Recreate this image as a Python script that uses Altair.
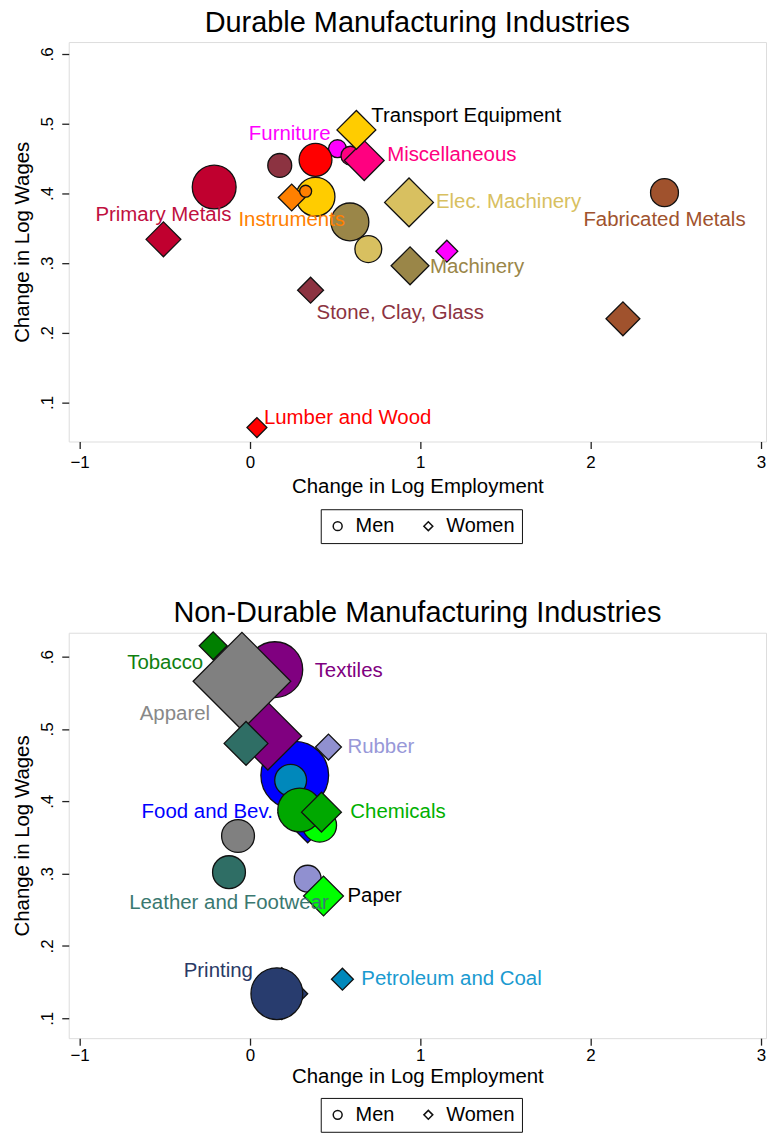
import altair as alt
import pandas as pd

FONT = "Liberation Sans"

# ---------------- Durable manufacturing ----------------
DUR_INDUSTRIES = ["Lumber and Wood", "Furniture", "Stone, Clay, Glass", "Primary Metals",
                  "Fabricated Metals", "Machinery", "Elec. Machinery",
                  "Transport Equipment", "Instruments", "Miscellaneous"]
DUR_COLORS = ["#FF0000", "#FF00FF", "#8C3341", "#C0002F", "#A0522D",
              "#9A8648", "#D8C060", "#FFCC00", "#FF8000", "#FF0080"]
DUR_LABEL_COLORS = ["#FF0000", "#FF00FF", "#8C3341", "#C0103F", "#A0522D",
                    "#9A8648", "#D8C060", "#000000", "#FF8000", "#FF0080"]
DUR_MEN_EMP = [0.385, 0.514, 0.175, -0.210, 2.434, 0.587, 0.695, 0.385, 0.327, 0.590]
DUR_MEN_WAGE = [0.448, 0.464, 0.440, 0.409, 0.401, 0.359, 0.320, 0.395, 0.403, 0.454]
DUR_MEN_SHARE = [2.72, 0.81, 1.44, 4.84, 1.96, 3.61, 1.82, 3.80, 0.36, 0.90]
DUR_WOMEN_EMP = [0.041, 1.156, 0.356, -0.508, 2.190, 0.940, 0.934, 0.625, 0.245, 0.671]
DUR_WOMEN_WAGE = [0.064, 0.317, 0.261, 0.334, 0.220, 0.296, 0.387, 0.491, 0.394, 0.447]
DUR_WOMEN_SHARE = [1.00, 1.21, 1.69, 3.06, 2.89, 3.61, 6.00, 3.80, 1.82, 4.00]
DUR_DRAW_ORDER = [("Furniture", "Men"), ("Lumber and Wood", "Men"), ("Stone, Clay, Glass", "Men"),
                  ("Primary Metals", "Men"), ("Fabricated Metals", "Men"), ("Machinery", "Men"),
                  ("Elec. Machinery", "Men"), ("Transport Equipment", "Men"),
                  ("Lumber and Wood", "Women"), ("Furniture", "Women"), ("Stone, Clay, Glass", "Women"),
                  ("Primary Metals", "Women"), ("Fabricated Metals", "Women"), ("Machinery", "Women"),
                  ("Elec. Machinery", "Women"), ("Instruments", "Women"), ("Instruments", "Men"),
                  ("Miscellaneous", "Men"), ("Miscellaneous", "Women"), ("Transport Equipment", "Women")]
# label: anchor series, align, dx, dy
DUR_LABELS = {
    "Transport Equipment": ("Women", "left", 15, -14),
    "Furniture": ("Men", "right", -7, -15),
    "Miscellaneous": ("Women", "left", 23, -6),
    "Elec. Machinery": ("Women", "left", 27, 0),
    "Machinery": ("Women", "left", 20, 1),
    "Fabricated Metals": ("Men", "center", 0, 28),
    "Stone, Clay, Glass": ("Women", "left", 6, 23),
    "Lumber and Wood": ("Women", "left", 7, -10),
    "Primary Metals": ("Women", "center", 0, -24),
    "Instruments": ("Women", "center", 0, 23),
}

# ---------------- Non-durable manufacturing ----------------
ND_INDUSTRIES = ["Food and Bev.", "Tobacco", "Textiles", "Apparel", "Paper", "Printing",
                 "Chemicals", "Petroleum and Coal", "Rubber", "Leather and Footwear"]
ND_COLORS = ["#0000FF", "#007F00", "#800080", "#808080", "#00FF00", "#283C6E",
             "#00A800", "#0088BB", "#9090D0", "#2F6E65"]
ND_LABEL_COLORS = ["#0000FF", "#108010", "#800080", "#888888", "#000000", "#2A3A66",
                   "#00B000", "#1A9AD0", "#9898D8", "#3A7870"]
ND_MEN_EMP = [0.263, -0.105, 0.146, -0.070, 0.409, 0.158, 0.292, 0.239, 0.339, -0.123]
ND_MEN_WAGE = [0.436, 0.541, 0.582, 0.352, 0.367, 0.134, 0.388, 0.429, 0.293, 0.302]
ND_MEN_SHARE = [11.56, 0.81, 7.84, 2.72, 2.89, 6.76, 4.84, 2.56, 1.82, 2.72]
ND_WOMEN_EMP = [0.339, -0.216, 0.105, -0.047, 0.432, 0.187, 0.420, 0.543, 0.461, -0.023]
ND_WOMEN_WAGE = [0.384, 0.615, 0.490, 0.566, 0.269, 0.134, 0.385, 0.154, 0.475, 0.480]
ND_WOMEN_SHARE = [9.00, 1.96, 11.56, 24.01, 4.00, 6.76, 4.00, 1.21, 1.69, 4.84]
ND_DRAW_ORDER = [("Printing", "Women"), ("Printing", "Men"), ("Food and Bev.", "Women"),
                 ("Food and Bev.", "Men"), ("Rubber", "Men"), ("Paper", "Men"), ("Paper", "Women"),
                 ("Textiles", "Men"), ("Tobacco", "Men"), ("Textiles", "Women"), ("Apparel", "Men"),
                 ("Apparel", "Women"), ("Tobacco", "Women"), ("Leather and Footwear", "Men"),
                 ("Leather and Footwear", "Women"), ("Petroleum and Coal", "Men"),
                 ("Petroleum and Coal", "Women"), ("Chemicals", "Men"), ("Chemicals", "Women"),
                 ("Rubber", "Women")]
ND_LABELS = {
    "Tobacco": ("Women", "right", -10, 17),
    "Textiles": ("Men", "left", 40, 1),
    "Apparel": ("Women", "right", -32, 33),
    "Rubber": ("Women", "left", 19, 0),
    "Food and Bev.": ("Women", "right", -35, -1),
    "Chemicals": ("Women", "left", 29, 0),
    "Leather and Footwear": ("Men", "center", 0, 31),
    "Paper": ("Women", "left", 24, 0),
    "Printing": ("Women", "right", -29, -23),
    "Petroleum and Coal": ("Women", "left", 19, 0),
}

X_TICKS = [-1, 0, 1, 2, 3]
Y_TICKS = [0.1, 0.2, 0.3, 0.4, 0.5, 0.6]
SHARE_MAX = 25.0
SIZE_PER_SHARE = 400.0  # marker area (px^2) per unit share


def build_frame(industries, men_x, men_y, men_s, women_x, women_y, women_s, draw_order):
    rows = []
    for i, ind in enumerate(industries):
        rows.append(dict(industry=ind, sex="Men", emp=men_x[i], wage=men_y[i], share=men_s[i]))
        rows.append(dict(industry=ind, sex="Women", emp=women_x[i], wage=women_y[i], share=women_s[i]))
    df = pd.DataFrame(rows)
    rank = {key: k for k, key in enumerate(draw_order)}
    df["rank"] = [rank.get((r.industry, r.sex), -1) for r in df.itertuples()]
    return df.sort_values("rank").reset_index(drop=True)


def panel(title, df, industries, colors, label_colors, labels, ydomain, height, legend_y,
          title_offset, x_label_pad, x_title_pad):
    x = alt.X("emp:Q", title="Change in Log Employment",
              scale=alt.Scale(domain=[-1.064, 3.03], nice=False, zero=False),
              axis=alt.Axis(values=X_TICKS, format="d", grid=False, domain=False,
                            tickSize=7, tickColor="#222", tickWidth=1.3,
                            labelFontSize=17, labelPadding=x_label_pad, labelColor="#000",
                            titleFontSize=20.5, titlePadding=x_title_pad, titleColor="#000",
                            titleFontWeight="normal"))
    y = alt.Y("wage:Q", title="Change in Log Wages",
              scale=alt.Scale(domain=ydomain, nice=False, zero=False),
              axis=alt.Axis(values=Y_TICKS, grid=False, domain=False,
                            labelExpr="replace(format(datum.value, '.1f'), '0.', '.')",
                            labelAngle=270, labelAlign="center", labelBaseline="bottom",
                            tickSize=7, tickColor="#222", tickWidth=1.3,
                            labelFontSize=17, labelPadding=5, labelColor="#000",
                            titleFontSize=20.5, titlePadding=6, titleColor="#000",
                            titleFontWeight="normal"))

    points = alt.Chart(df).mark_point(filled=True, opacity=1, stroke="#111",
                                      strokeWidth=1.3).encode(
        x=x, y=y,
        color=alt.Color("industry:N", scale=alt.Scale(domain=industries, range=colors),
                        legend=None),
        shape=alt.Shape("sex:N", scale=alt.Scale(domain=["Men", "Women"],
                                                 range=["circle", "diamond"]),
                        legend=alt.Legend(orient="none", legendX=253, legendY=legend_y,
                                          direction="horizontal", title=None,
                                          strokeColor="#111", padding=7,
                                          labelFontSize=20, labelFont=FONT,
                                          labelColor="#000", labelOffset=8,
                                          symbolSize=80, symbolFillColor="white",
                                          symbolStrokeColor="#111",
                                          symbolStrokeWidth=1.5, columnPadding=24)),
        size=alt.Size("share:Q", scale=alt.Scale(domain=[0, SHARE_MAX],
                                                 range=[0, SHARE_MAX * SIZE_PER_SHARE]),
                      legend=None),
        order=alt.Order("rank:Q"),
    )

    layers = [points]
    for i, ind in enumerate(industries):
        anchor, align, dx, dy = labels[ind]
        row = df[(df.industry == ind) & (df.sex == anchor)]
        layers.append(
            alt.Chart(row).mark_text(align=align, baseline="middle", dx=dx, dy=dy,
                                     font=FONT, fontSize=20.5,
                                     color=label_colors[i]).encode(
                x="emp:Q", y="wage:Q", text="industry:N")
        )
    return alt.layer(*layers).properties(
        width=700, height=height,
        title=alt.TitleParams(title, fontSize=29, font=FONT, fontWeight="normal",
                              color="#000", anchor="middle", offset=title_offset),
    )


dur_df = build_frame(DUR_INDUSTRIES, DUR_MEN_EMP, DUR_MEN_WAGE, DUR_MEN_SHARE,
                     DUR_WOMEN_EMP, DUR_WOMEN_WAGE, DUR_WOMEN_SHARE, DUR_DRAW_ORDER)
nd_df = build_frame(ND_INDUSTRIES, ND_MEN_EMP, ND_MEN_WAGE, ND_MEN_SHARE,
                    ND_WOMEN_EMP, ND_WOMEN_WAGE, ND_WOMEN_SHARE, ND_DRAW_ORDER)

top = panel("Durable Manufacturing Industries", dur_df, DUR_INDUSTRIES, DUR_COLORS,
            DUR_LABEL_COLORS, DUR_LABELS, [0.044, 0.617], 401, 469,
            title_offset=4, x_label_pad=6, x_title_pad=6)
bottom = panel("Non-Durable Manufacturing Industries", nd_df, ND_INDUSTRIES, ND_COLORS,
               ND_LABEL_COLORS, ND_LABELS, [0.0725, 0.633], 407, 467,
               title_offset=1, x_label_pad=2, x_title_pad=4)

chart = alt.vconcat(top, bottom, spacing=54).resolve_scale(
    color="independent", shape="independent", size="independent"
).resolve_legend(shape="independent").properties(
    padding={"left": 12, "top": 6, "right": 0, "bottom": 0}
).configure_view(stroke="#222", strokeWidth=1.5).configure(font=FONT)

chart.save("out.html", embed_options={"renderer": "svg", "actions": False})
